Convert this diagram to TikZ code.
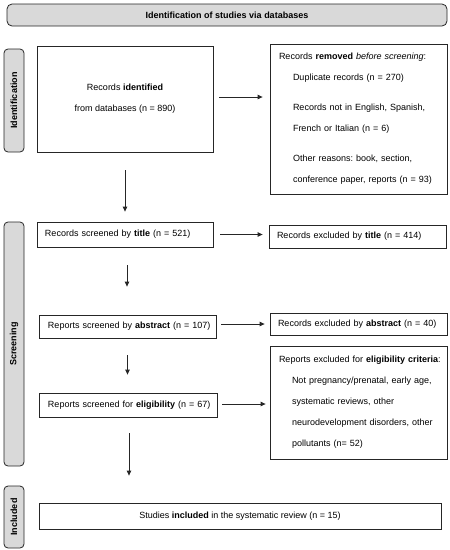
\documentclass[tikz,border=0pt]{standalone}
\usepackage{fontspec}
\setmainfont{Liberation Sans}
\usetikzlibrary{arrows.meta}
\frenchspacing
\begin{document}
\begin{tikzpicture}[x=1pt,y=-1pt,
  box/.style={draw=black!85, line width=0.8pt, inner sep=0pt, font=\fontsize{9}{21}\selectfont\frenchspacing},
  sbox/.style={box, align=left, inner ysep=0pt},
  side/.style={draw=black!85, line width=0.8pt, fill=black!15, rounded corners=4pt, inner sep=0pt, font=\fontsize{9}{11}\selectfont\bfseries},
  arr/.style={-{Triangle[length=5pt,width=4.5pt]}, line width=0.8pt, black!85}
]
\useasboundingbox[fill=white] (0,0) rectangle (450,550);

% header and phase labels
\node[side, rounded corners=5pt, minimum width=440pt, minimum height=22pt] (hdr) at (227,15) {Identification of studies via databases};
\node[side, rotate=90, minimum width=103pt, minimum height=20pt] (sid) at (14,100.5) {Identification};
\node[side, rotate=90, minimum width=244pt, minimum height=20pt] (ssc) at (14,344) {Screening};
\node[side, rotate=90, minimum width=62pt, minimum height=20pt] (sinc) at (14,517) {Included};

% boxes
\node[box, align=center, minimum width=176pt, minimum height=106pt] (ident) at (125,99)
  {Records \textbf{identified}\\from databases (n = 890)};
\node[sbox, text width=159pt, inner xsep=9pt, minimum height=150pt] (removed) at (358.5,119)
  {\mbox{Records \textbf{removed} \textit{before screening}:}\\
   \hspace*{14pt}Duplicate records (n = 270)\\[9pt]
   \hspace*{14pt}Records not in English, Spanish,\\
   \hspace*{14pt}French or Italian (n = 6)\\[9pt]
   \hspace*{14pt}Other reasons: book, section,\\
   \hspace*{14pt}\mbox{conference paper, reports (n = 93)}};

\node[sbox, text width=160pt, inner xsep=8pt, minimum height=25pt] (title) at (125,234.5)
  {\mbox{Records screened by \textbf{title} (n = 521)}};
\node[sbox, text width=161pt, inner xsep=8pt, minimum height=23pt] (extitle) at (357.5,236.5)
  {\mbox{Records excluded by \textbf{title} (n = 414)}};

\node[sbox, text width=159pt, inner xsep=9pt, minimum height=23pt] (abstract) at (127.5,326.5)
  {\mbox{Reports screened by \textbf{abstract} (n = 107)}};
\node[sbox, text width=161pt, inner xsep=8pt, minimum height=22pt] (exabs) at (358.5,324)
  {\mbox{Records excluded by \textbf{abstract} (n = 40)}};

\node[sbox, text width=160pt, inner xsep=9pt, minimum height=24pt] (elig) at (128,405)
  {\mbox{Reports screened for \textbf{eligibility} (n = 67)}};
\node[sbox, text width=159pt, inner xsep=9pt, minimum height=113pt] (excrit) at (358.5,402.5)
  {\mbox{Reports excluded for \textbf{eligibility criteria}:}\\
   \hspace*{13pt}\mbox{Not pregnancy/prenatal, early age,}\\
   \hspace*{13pt}systematic reviews, other\\
   \hspace*{13pt}\mbox{neurodevelopment disorders, other}\\
   \hspace*{13pt}pollutants (n= 52)};

\node[box, align=center, minimum width=402pt, minimum height=26pt] (incl) at (240,516)
  {Studies \textbf{included} in the systematic review (n = 15)};

% horizontal arrows
\draw[arr, shorten <=6pt, shorten >=7pt] ([yshift=2pt]ident.east) -- ([yshift=2pt]ident.east -| removed.west);
\draw[arr, shorten <=7pt, shorten >=6pt] (title.east) -- (title.east -| extitle.west);
\draw[arr, shorten <=5pt, shorten >=5pt] ([yshift=2.5pt]abstract.east) -- ([yshift=2.5pt]abstract.east -| exabs.west);
\draw[arr, shorten <=5pt, shorten >=4pt] ([yshift=1pt]elig.east) -- ([yshift=1pt]elig.east -| excrit.west);

% vertical arrows
\draw[arr, shorten <=18pt, shorten >=10pt] (ident.south) -- (ident.south |- title.north);
\draw[arr, shorten <=18pt, shorten >=28pt] ([xshift=2pt]title.south) -- ([xshift=2pt]title.south |- abstract.north);
\draw[arr, shorten <=17pt, shorten >=18pt] (abstract.south) -- (abstract.south |- elig.north);
\draw[arr, shorten <=16pt, shorten >=27pt] ([xshift=1pt]elig.south) -- ([xshift=1pt]elig.south |- incl.north);
\end{tikzpicture}
\end{document}
